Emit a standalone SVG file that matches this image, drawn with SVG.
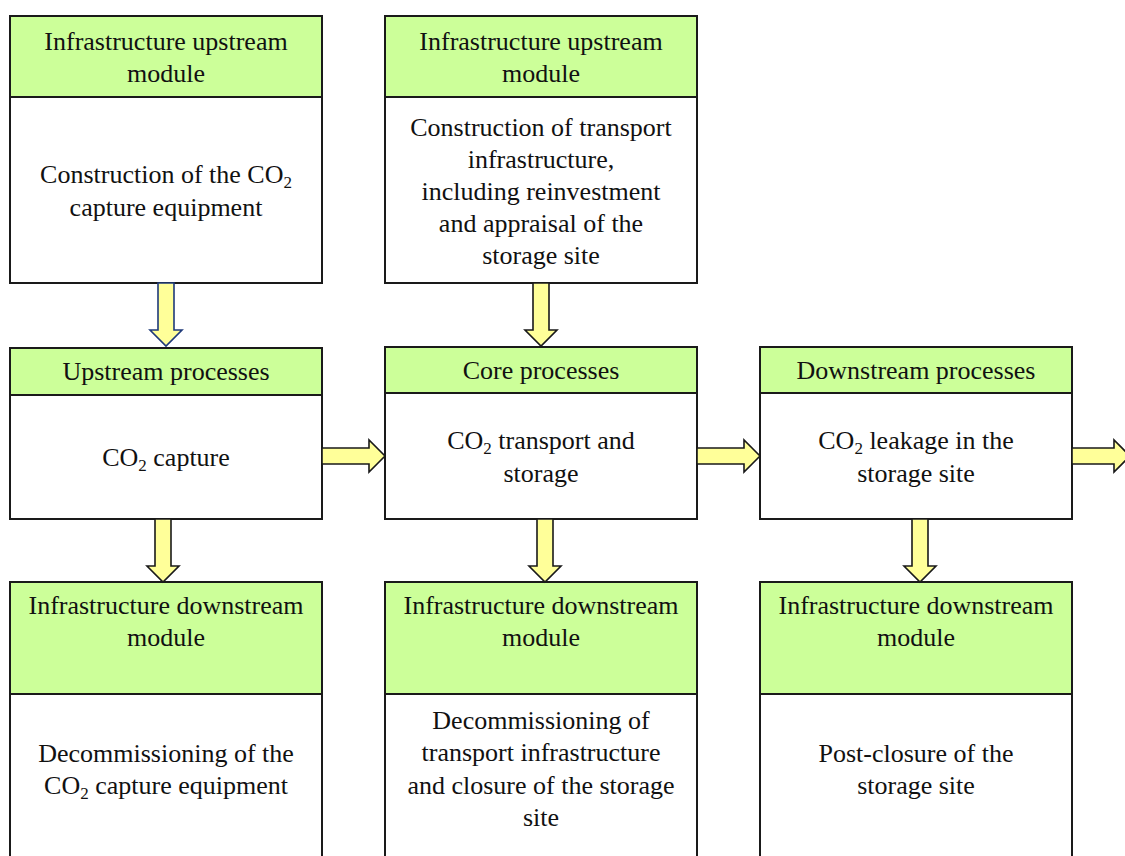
<svg xmlns="http://www.w3.org/2000/svg" width="1125" height="856" viewBox="0 0 1125 856">
<style>
.hd{fill:#CCFF99;stroke:#1a1a1a;stroke-width:2}
.bd{fill:#ffffff;stroke:#1a1a1a;stroke-width:2}
.ar{fill:#FFFF99;stroke:#1a1a1a;stroke-width:1.6;stroke-linejoin:miter}
.arb{fill:#FFFF99;stroke:#1F3A7A;stroke-width:1.6}
text{font-family:"Liberation Serif","Times New Roman",serif;font-size:26px;fill:#111;text-anchor:middle}
.sub{font-size:17px}
</style>
<rect width="1125" height="856" fill="#fff"/>
<g id="n1">
<rect class="bd" x="10" y="16" width="312" height="267"/>
<rect class="hd" x="10" y="16" width="312" height="81"/>
<text x="166" y="50">Infrastructure upstream</text>
<text x="166" y="82">module</text>
<text x="166" y="183">Construction of the CO<tspan class="sub" dy="5">2</tspan></text>
<text x="166" y="216">capture equipment</text>
</g>
<g id="n2">
<rect class="bd" x="385" y="16" width="312" height="267"/>
<rect class="hd" x="385" y="16" width="312" height="81"/>
<text x="541" y="50">Infrastructure upstream</text>
<text x="541" y="82">module</text>
<text x="541" y="136">Construction of transport</text>
<text x="541" y="168">infrastructure,</text>
<text x="541" y="200">including reinvestment</text>
<text x="541" y="232">and appraisal of the</text>
<text x="541" y="264">storage site</text>
</g>
<g id="n3">
<rect class="bd" x="10" y="348" width="312" height="171"/>
<rect class="hd" x="10" y="348" width="312" height="47"/>
<text x="166" y="380">Upstream processes</text>
<text x="166" y="466">CO<tspan class="sub" dy="5">2</tspan><tspan dy="-5"> capture</tspan></text>
</g>
<g id="n4">
<rect class="bd" x="385" y="347" width="312" height="172"/>
<rect class="hd" x="385" y="347" width="312" height="46"/>
<text x="541" y="379">Core processes</text>
<text x="541" y="449">CO<tspan class="sub" dy="5">2</tspan><tspan dy="-5"> transport and</tspan></text>
<text x="541" y="482">storage</text>
</g>
<g id="n5">
<rect class="bd" x="760" y="347" width="312" height="172"/>
<rect class="hd" x="760" y="347" width="312" height="46"/>
<text x="916" y="379">Downstream processes</text>
<text x="916" y="449">CO<tspan class="sub" dy="5">2</tspan><tspan dy="-5">  leakage in the</tspan></text>
<text x="916" y="482">storage site</text>
</g>
<g id="n6">
<rect class="bd" x="10" y="582" width="312" height="290"/>
<rect class="hd" x="10" y="582" width="312" height="112"/>
<text x="166" y="614">Infrastructure downstream</text>
<text x="166" y="646">module</text>
<text x="166" y="762">Decommissioning  of the</text>
<text x="166" y="794">CO<tspan class="sub" dy="5">2</tspan><tspan dy="-5"> capture equipment</tspan></text>
</g>
<g id="n7">
<rect class="bd" x="385" y="582" width="312" height="290"/>
<rect class="hd" x="385" y="582" width="312" height="112"/>
<text x="541" y="614">Infrastructure downstream</text>
<text x="541" y="646">module</text>
<text x="541" y="729">Decommissioning  of</text>
<text x="541" y="761">transport infrastructure</text>
<text x="541" y="794">and closure of the storage</text>
<text x="541" y="826">site</text>
</g>
<g id="n8">
<rect class="bd" x="760" y="582" width="312" height="290"/>
<rect class="hd" x="760" y="582" width="312" height="112"/>
<text x="916" y="614">Infrastructure downstream</text>
<text x="916" y="646">module</text>
<text x="916" y="762">Post-closure of the</text>
<text x="916" y="794">storage site</text>
</g>
<g id="connectors">
<polygon class="arb" points="158,283 174,283 174,330 182,330 166,346 150,330 158,330"/>
<polygon class="ar" points="533,283 549,283 549,330 557,330 541,346 525,330 533,330"/>
<polygon class="ar" points="155,519 171,519 171,566 179,566 163,582 147,566 155,566"/>
<polygon class="ar" points="537,519 553,519 553,566 561,566 545,582 529,566 537,566"/>
<polygon class="ar" points="912,519 928,519 928,566 936,566 920,582 904,566 912,566"/>
<polygon class="ar" points="322,448 369,448 369,440 385,456 369,472 369,464 322,464"/>
<polygon class="ar" points="697,448 744,448 744,440 760,456 744,472 744,464 697,464"/>
<polygon class="ar" points="1072,448 1114,448 1114,440 1130,456 1114,472 1114,464 1072,464"/>
</g>
</svg>
